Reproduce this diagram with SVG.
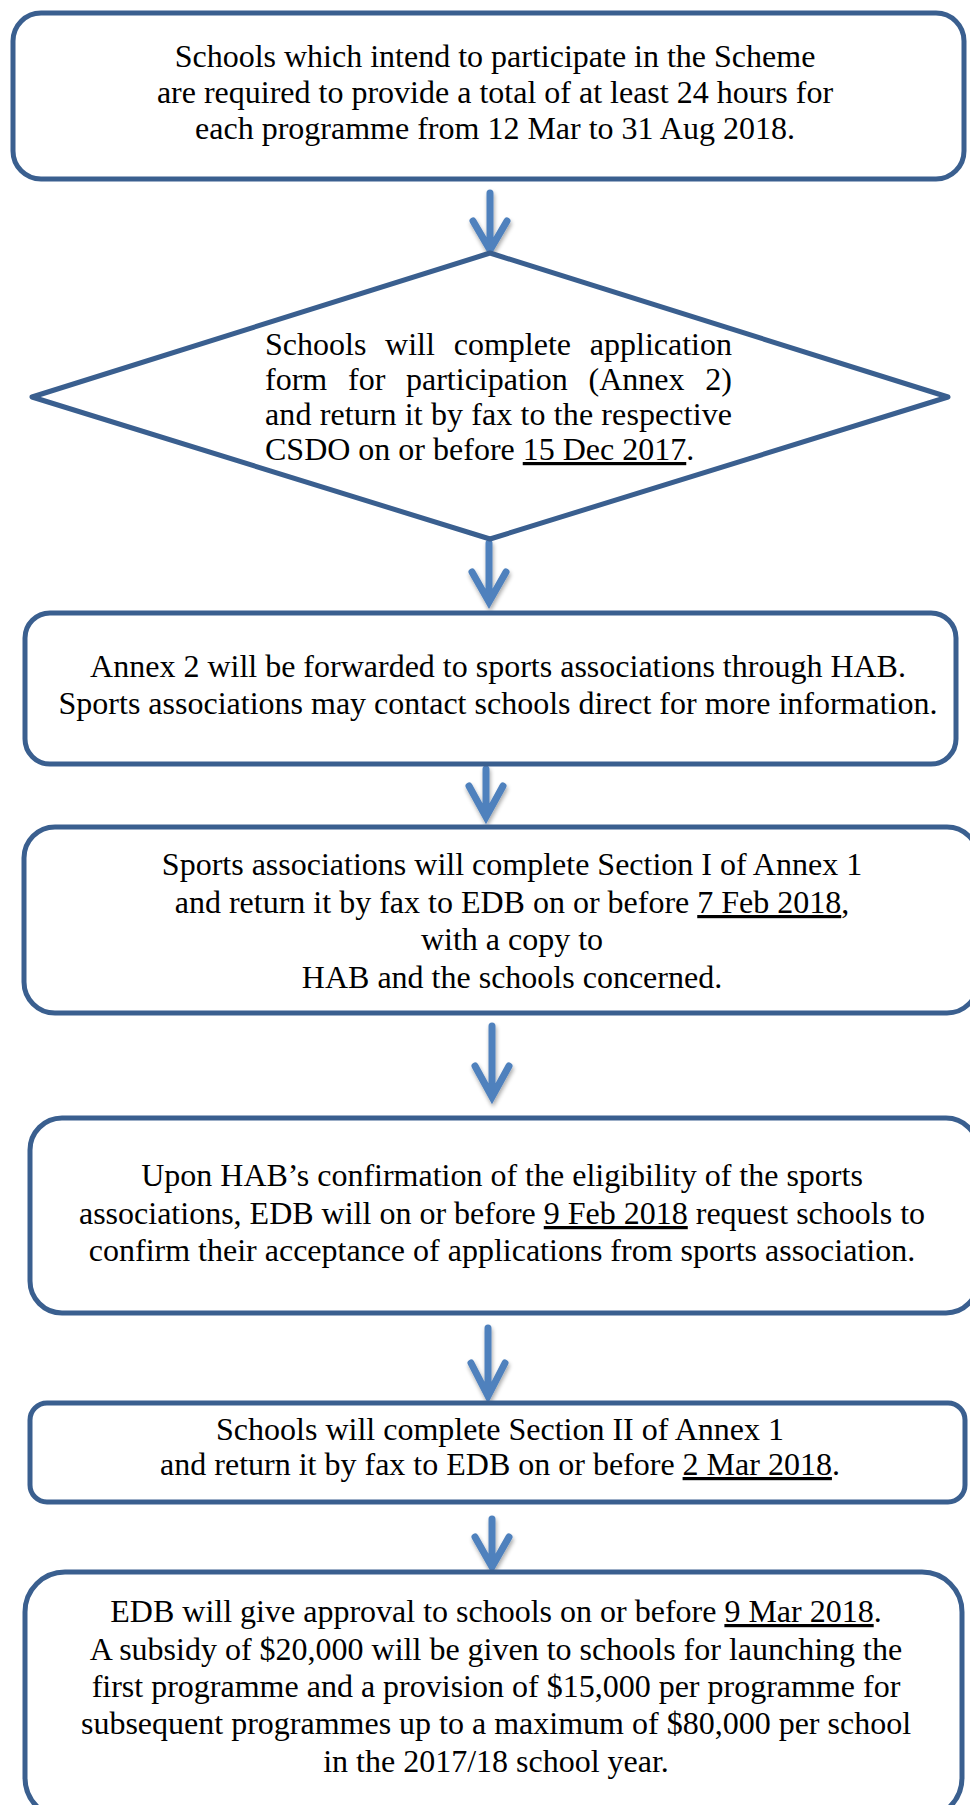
<svg xmlns="http://www.w3.org/2000/svg" width="970" height="1805" viewBox="0 0 970 1805">
<defs>
<filter id="sh" x="-50%" y="-20%" width="200%" height="160%">
<feGaussianBlur in="SourceAlpha" stdDeviation="2"/>
<feOffset dx="1" dy="3" result="b"/>
<feComponentTransfer><feFuncA type="linear" slope="0.35"/></feComponentTransfer>
<feMerge><feMergeNode/><feMergeNode in="SourceGraphic"/></feMerge>
</filter>
</defs>
<style>
.box{fill:#fff;stroke:#3A5F8F;stroke-width:5}
.t{font-family:"Liberation Serif","Times New Roman",serif;font-size:32px;fill:#000}
.m{text-anchor:middle}
.u{text-decoration:underline}
.arr{fill:none;stroke:#4F81BD;stroke-width:7;stroke-linecap:round;stroke-linejoin:miter}
</style>
<rect width="970" height="1805" fill="#fff"/>
<g id="connectors">
<g filter="url(#sh)">
<path class="arr" d="M490 193V247M473 221L490 250L507 221"/>
<path class="arr" d="M489 543V600M472 572L489 602L506 572"/>
<path class="arr" d="M486 769V815M469 786L486 817L503 786"/>
<path class="arr" d="M492 1026V1095M475 1066L492 1097L509 1066"/>
<path class="arr" d="M488 1328V1394M471 1363L488 1396L505 1363"/>
<path class="arr" d="M492 1519V1565M475 1537L492 1567L509 1537"/>
</g>
</g>
<g id="n1">
<rect class="box" x="13" y="13" width="951" height="166" rx="28"/>
<text class="t m" x="495" y="67">Schools which intend to participate in the Scheme</text>
<text class="t m" x="495" y="103">are required to provide a total of at least 24 hours for</text>
<text class="t m" x="495" y="139">each programme from 12 Mar to 31 Aug 2018.</text>
</g>
<g id="n2">
<path class="box" d="M490 253L32 397L490 539L948 397Z" stroke-linejoin="round" stroke-width="5.5"/>
<text class="t" y="355"><tspan x="265">Schools</tspan><tspan x="385.1">will</tspan><tspan x="453.7">complete</tspan><tspan x="589.8">application</tspan></text>
<text class="t" y="390"><tspan x="265">form</tspan><tspan x="348">for</tspan><tspan x="406">participation</tspan><tspan x="588.5">(Annex</tspan><tspan x="705.3">2)</tspan></text>
<text class="t" x="265" y="425" textLength="467" lengthAdjust="spacing">and return it by fax to the respective</text>
<text class="t" x="265" y="460">CSDO on or before <tspan class="u">15 Dec 2017</tspan>.</text>
</g>
<g id="n3">
<rect class="box" x="25" y="613" width="931" height="151" rx="25"/>
<text class="t m" x="498" y="677">Annex 2 will be forwarded to sports associations through HAB.</text>
<text class="t m" x="498" y="714">Sports associations may contact schools direct for more information.</text>
</g>
<g id="n4">
<rect class="box" x="24" y="827" width="954" height="186" rx="31"/>
<text class="t m" x="512" y="875">Sports associations will complete Section I of Annex 1</text>
<text class="t m" x="512" y="913">and return it by fax to EDB on or before <tspan class="u">7 Feb 2018</tspan>,</text>
<text class="t m" x="512" y="950">with a copy to</text>
<text class="t m" x="512" y="988">HAB and the schools concerned.</text>
</g>
<g id="n5">
<rect class="box" x="30" y="1118" width="948" height="195" rx="32"/>
<text class="t m" x="502" y="1186">Upon HAB’s confirmation of the eligibility of the sports</text>
<text class="t m" x="502" y="1224">associations, EDB will on or before <tspan class="u">9 Feb 2018</tspan> request schools to</text>
<text class="t m" x="502" y="1261">confirm their acceptance of applications from sports association.</text>
</g>
<g id="n6">
<rect class="box" x="30" y="1403" width="935" height="99" rx="17"/>
<text class="t m" x="500" y="1440">Schools will complete Section II of Annex 1</text>
<text class="t m" x="500" y="1475">and return it by fax to EDB on or before <tspan class="u">2 Mar 2018</tspan>.</text>
</g>
<g id="n7">
<rect class="box" x="25" y="1572" width="937" height="246" rx="40"/>
<text class="t m" x="496" y="1622">EDB will give approval to schools on or before <tspan class="u">9 Mar 2018</tspan>.</text>
<text class="t m" x="496" y="1660">A subsidy of $20,000 will be given to schools for launching the</text>
<text class="t m" x="496" y="1697">first programme and a provision of $15,000 per programme for</text>
<text class="t m" x="496" y="1734">subsequent programmes up to a maximum of $80,000 per school</text>
<text class="t m" x="496" y="1772">in the 2017/18 school year.</text>
</g>
</svg>
